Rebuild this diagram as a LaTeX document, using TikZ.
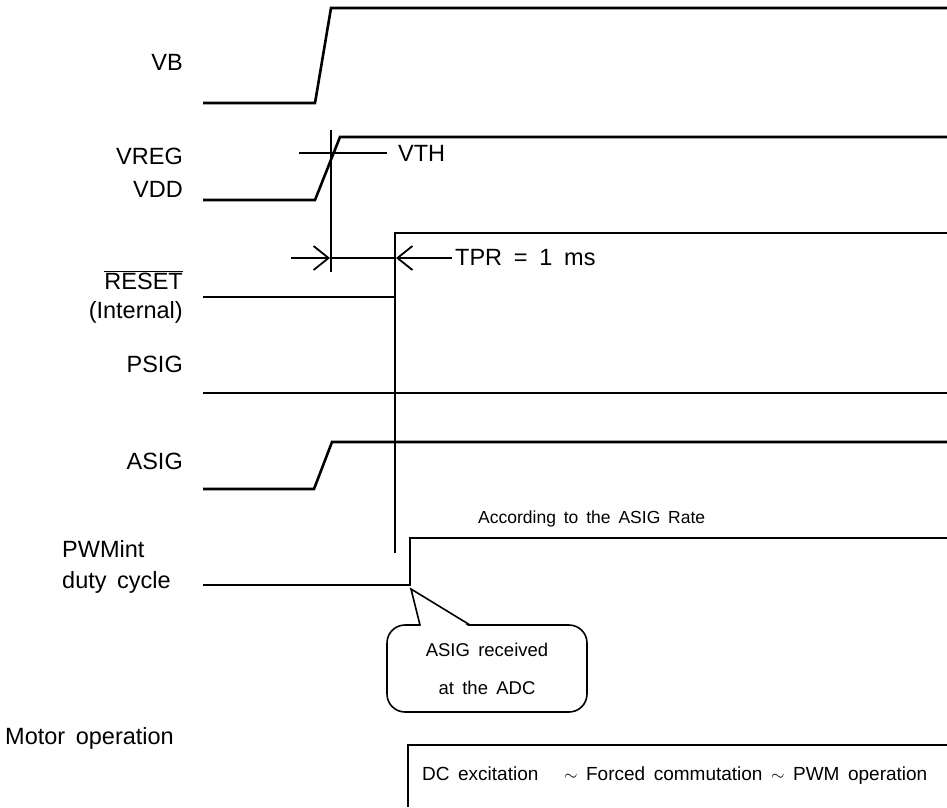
\documentclass[tikz,border=0pt]{standalone}
\usepackage{fontspec}
\setmainfont{Liberation Sans}
\usetikzlibrary{positioning,calc,arrows.meta}
\newcommand{\widesp}{\spaceskip=0.45em\relax}
\tikzset{sig/.style={line width=2.6pt,line join=miter},
         guide/.style={line width=1.1pt},
         lbl/.style={font=\fontsize{23.5}{27}\selectfont,inner sep=0pt,execute at begin node=\widesp},
         note/.style={font=\fontsize{18.5}{38}\selectfont,inner sep=0pt,execute at begin node=\widesp}
}
\tikzstyle{dim} = [line width=1.8pt,-{Straight Barb[length=15pt,width=24pt,line width=1.8pt]}]

\begin{document}
\begin{tikzpicture}[x=1pt,y=-1pt]
\useasboundingbox (0,0) rectangle (947,807);

% signal names
\node[lbl,anchor=east] (vb) at (183,62) {VB};
\node[lbl,anchor=east] (vreg) at (183,156) {VREG};
\node[lbl,anchor=east] (vdd) at (183,189) {VDD};
\node[lbl,anchor=east] (reset) at (183,280) {$\overline{\mbox{RESET}}$};
\node[lbl,anchor=east] (internal) at (183,312) {(Internal)};
\node[lbl,anchor=east] (psig) at (183,364) {PSIG};
\node[lbl,anchor=east] (asig) at (183,461) {ASIG};
\node[lbl,anchor=west] (pwm) at (62,549) {PWMint};
\node[lbl,anchor=west] (duty) at (62,582) {duty cycle};
\node[lbl,anchor=west] (motor) at (5,738) {Motor operation};

% waveforms
\draw[sig] (203,103) -- (315,103) -- (331,8) -- (947,8);
\draw[sig] (203,200) -- (315,200) -- (340,137) -- (947,137);
\draw[sig] (203,297) -- (395,297) -- (395,233) -- (947,233);
\draw[sig] (203,393) -- (947,393);
\draw[sig] (203,489) -- (314,489) -- (332,442) -- (947,442);
\draw[sig] (203,585) -- (410,585) -- (410,538) -- (947,538);

% threshold and reset delay
\draw[guide] (299,153) -- (387,153);
\node[lbl,anchor=west] (vth) at (398,153) {VTH};
\draw[guide] (331,130) -- (331,272);
\draw[guide] (331,258) -- (395,258);
\draw[guide] (395,240) -- (395,553);
\draw[dim] (291,258) -- (330,258);
\draw[dim] (452,258) -- (396,258);
\node[lbl,anchor=west,execute at begin node={\spaceskip=0.5em\relax}] (tpr) at (455,258) {TPR = 1 ms};

\node[note,anchor=west,font=\fontsize{17.5}{20}\selectfont] (rate) at (478,519) {According to the ASIG Rate};

% callout
\node[note,draw,line width=1.6pt,rounded corners=18pt,minimum width=200pt,minimum height=87pt,align=center] (adc) at (487,668.5) {ASIG received\\at the ADC};
\fill[white] (421,626.5) -- (411,589) -- (469,626.5) -- cycle;
\draw[line width=1.6pt,line join=miter] (420,625) -- (411,589) -- (470,625);

% motor operation
\draw[sig] (408,807) -- (408,745) -- (947,745);
\node[note,anchor=west,font=\fontsize{19}{22}\selectfont] (modes) at (422,776) {DC excitation \ \ $\sim$ Forced commutation $\sim$ PWM operation};

\end{tikzpicture}
\end{document}
